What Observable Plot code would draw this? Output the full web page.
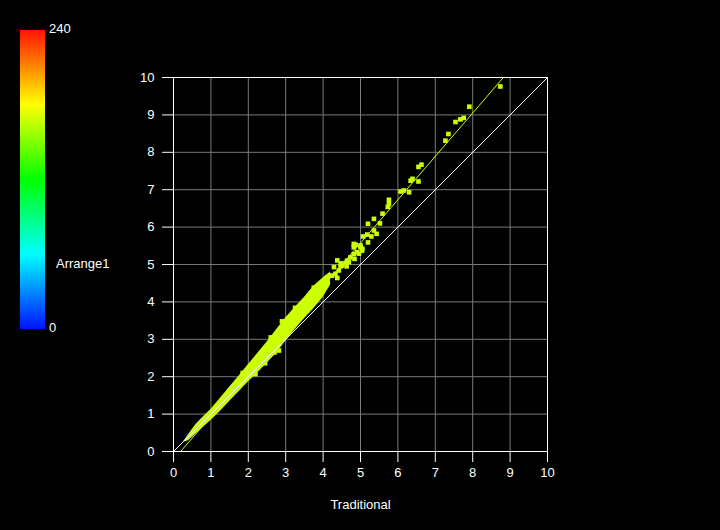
<!DOCTYPE html>
<html>
<head>
<meta charset="utf-8">
<script src="https://cdn.jsdelivr.net/npm/d3@7"></script>
<script src="https://cdn.jsdelivr.net/npm/@observablehq/plot@0.6"></script>
<style>
  html, body { margin: 0; padding: 0; background: #000; }
  #wrap { position: relative; width: 720px; height: 530px; background: #000; font-family: "Liberation Sans", sans-serif; color: #fff; }
  #cbar { position: absolute; left: 20px; top: 30px; width: 25px; height: 299px;
          background: linear-gradient(to bottom, #ff1400 0%, #ffff00 25%, #00ff00 50%, #00ffff 75%, #0014ff 100%); }
  .lbl { position: absolute; font-size: 13px; line-height: 13px; color: #fff; white-space: nowrap; }
  #chart { position: absolute; left: 0; top: 0; }
</style>
</head>
<body>
<div id="wrap">
  <div id="chart"></div>
  <div id="cbar"></div>
  <div class="lbl" id="cmax" style="left:49px; top:22px;"></div>
  <div class="lbl" id="cmin" style="left:49px; top:321px;"></div>
  <div class="lbl" id="cname" style="left:56px; top:257px;"></div>
</div>
<script>
// ---- data ----
const ticks = [0, 1, 2, 3, 4, 5, 6, 7, 8, 9, 10];
const xLabel = "Traditional";
const colorName = "Arrange1";
const colorRange = [0, 240];

// dense band of points (lower/upper envelope)
const bandX  = [0.27, 0.40, 0.60, 0.80, 1.00, 1.25, 1.50, 1.75, 2.00, 2.25, 2.50, 2.75, 3.00, 3.25, 3.50, 3.75, 4.00, 4.20];
const bandLo = [0.25, 0.29, 0.47, 0.65, 0.83, 1.07, 1.34, 1.60, 1.86, 2.10, 2.36, 2.62, 2.95, 3.26, 3.55, 3.82, 4.12, 4.45];
const bandHi = [0.27, 0.45, 0.72, 0.93, 1.12, 1.42, 1.72, 2.01, 2.32, 2.62, 2.92, 3.25, 3.57, 3.85, 4.12, 4.42, 4.64, 4.80];

// sparse points
const ptX = [8.74, 7.91, 7.76, 7.67, 7.54, 7.35, 7.27, 6.63, 6.55, 6.39, 6.34, 6.55, 6.16, 6.07, 6.30,
             5.76, 5.76, 5.73, 5.59, 5.36, 5.20, 5.52, 5.36, 5.43, 5.18, 5.29, 5.07, 5.20, 4.87, 4.82,
             5.00, 5.04, 4.91, 4.82, 4.73, 4.64, 4.60, 4.69, 4.84, 4.51, 4.63, 4.38, 4.47, 4.29, 4.42,
             4.33, 4.24, 4.11, 4.02, 3.93, 3.75, 4.38, 4.47, 4.20, 4.82, 5.00, 5.05, 4.96, 4.06, 3.80,
             3.66, 3.57, 2.19, 2.45, 2.70, 2.82, 3.25, 2.90, 2.60, 1.85];
const ptY = [9.76, 9.22, 8.92, 8.88, 8.81, 8.49, 8.31, 7.67, 7.61, 7.29, 7.24, 7.22, 6.98, 6.95, 6.93,
             6.73, 6.62, 6.54, 6.36, 6.22, 6.09, 6.10, 5.91, 5.82, 5.80, 5.75, 5.75, 5.59, 5.53, 5.46,
             5.46, 5.37, 5.33, 5.28, 5.19, 5.10, 5.04, 5.06, 5.15, 4.97, 4.95, 5.11, 4.95, 4.93, 4.84,
             4.75, 4.70, 4.66, 4.53, 4.44, 4.38, 4.64, 5.03, 4.70, 5.55, 5.51, 5.42, 5.29, 4.57, 4.35,
             4.22, 4.08, 2.07, 2.36, 2.65, 2.70, 3.84, 3.48, 3.05, 2.10];

// fitted line and identity line
const fitX = [0.19, 8.82];
const fitY = [0, 10];
const diagX = [0, 10];
const diagY = [0, 10];

// ---- build tables ----
const band = bandX.map((x, i) => ({x, lo: bandLo[i], hi: bandHi[i]}));
const pts = ptX.map((x, i) => ({x, y: ptY[i]}));
const fit = fitX.map((x, i) => ({x, y: fitY[i]}));
const diag = diagX.map((x, i) => ({x, y: diagY[i]}));

const yg = "#ccff00";

const chart = Plot.plot({
  width: 720,
  height: 530,
  marginLeft: 173,
  marginRight: 173,
  marginTop: 77,
  marginBottom: 79,
  style: {background: "#000", color: "#fff", fontFamily: "Liberation Sans, sans-serif", fontSize: "13px"},
  x: {domain: [0, 10], ticks: ticks},
  y: {domain: [0, 10], ticks: ticks},
  marks: [
    Plot.gridX(ticks, {stroke: "#7a7a7a", strokeOpacity: 1}),
    Plot.gridY(ticks, {stroke: "#7a7a7a", strokeOpacity: 1}),
    Plot.areaY(band, {x: "x", y1: "lo", y2: "hi", fill: yg}),
    Plot.dot(pts, {x: "x", y: "y", symbol: "square", r: 2.6, fill: yg, stroke: null}),
    Plot.line(fit, {x: "x", y: "y", stroke: yg, strokeWidth: 1}),
    Plot.line(diag, {x: "x", y: "y", stroke: "#fff", strokeWidth: 1}),
    Plot.frame({stroke: "#fff"}),
    Plot.axisX(ticks, {tickSize: 11, tickPadding: 5, stroke: "#fff", fill: "#fff", label: null, fontSize: 13}),
    Plot.axisY(ticks, {tickSize: 11, tickPadding: 8, stroke: "#fff", fill: "#fff", label: null, fontSize: 13}),
    Plot.text([xLabel], {frameAnchor: "bottom", dy: 57, fill: "#fff", fontSize: 13})
  ]
});
document.getElementById("chart").appendChild(chart);
document.getElementById("cmax").textContent = String(colorRange[1]);
document.getElementById("cmin").textContent = String(colorRange[0]);
document.getElementById("cname").textContent = colorName;
</script>
</body>
</html>
